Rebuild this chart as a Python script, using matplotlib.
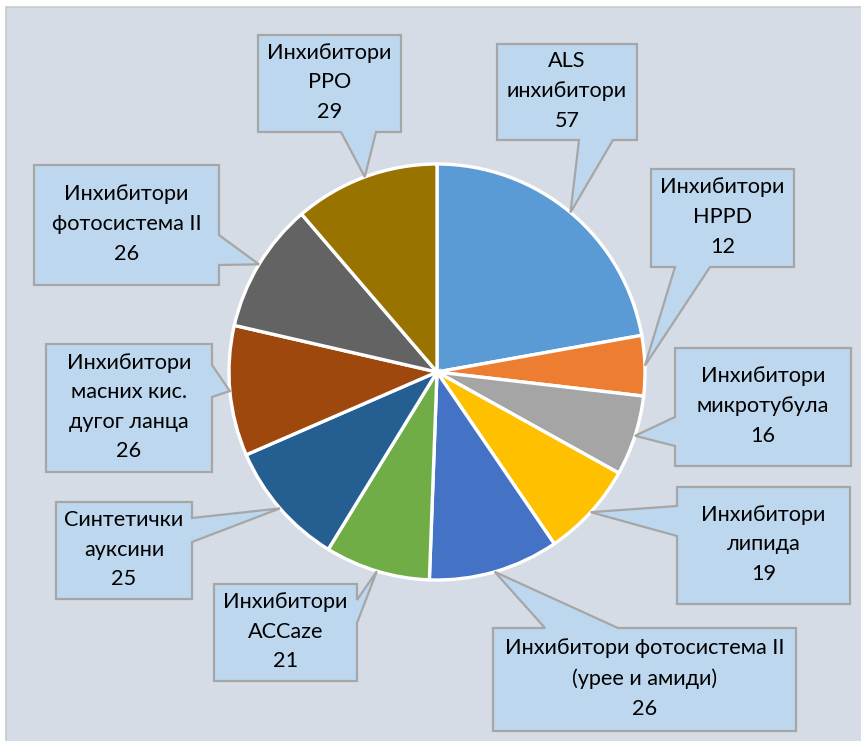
import matplotlib
matplotlib.use("Agg")
import matplotlib.pyplot as plt
from matplotlib.patches import Polygon, Rectangle
import numpy as np

# herbicide groups, clockwise from 12 o'clock
labels = [
    "ALS\nинхибитори",
    "Инхибитори\nHPPD",
    "Инхибитори\nмикротубула",
    "Инхибитори\nлипида",
    "Инхибитори фотосистема II\n(урее и амиди)",
    "Инхибитори\nACCaze",
    "Синтетички\nауксини",
    "Инхибитори\nмасних кис.\nдугог ланца",
    "Инхибитори\nфотосистема II",
    "Инхибитори\nPPO",
]
counts = [57, 12, 16, 19, 26, 21, 25, 26, 26, 29]
colors = ["#5B9BD5", "#ED7D31", "#A5A5A5", "#FFC000", "#4472C4",
          "#70AD47", "#255E91", "#9E480E", "#636363", "#997300"]

W, H = 862, 741
CX, CY, R = 437, 372, 208  # pie centre / radius in pixels (y from top)

# callout boxes: (left, top, right, bottom), side of pointer, pointer base span
boxes = [
    ((497, 44, 637, 140), "b", (579, 613)),
    ((651, 169, 794, 267), "b", (675, 710)),
    ((675, 348, 851, 466), "l", (417, 446)),
    ((677, 487, 850, 604), "l", (506, 536)),
    ((493, 628, 796, 731), "t", (545, 618)),
    ((214, 584, 357, 681), "r", (600, 623)),
    ((56, 502, 192, 599), "r", (518, 542)),
    ((46, 344, 212, 472), "r", (365, 397)),
    ((34, 165, 219, 285), "r", (235, 265)),
    ((258, 35, 401, 132), "b", (341, 376)),
]


def px(x, y):
    return (x, H - y)


fig = plt.figure(figsize=(W / 100, H / 100), dpi=100)
fig.patch.set_facecolor("white")
ax = fig.add_axes([0, 0, 1, 1])

ax.add_patch(Rectangle(px(6.5, H + 2), W, H - 4.5, facecolor="#D6DCE5",
                       edgecolor="#C9C9C9", linewidth=1.2, zorder=0))

wedges, _ = ax.pie(counts, colors=colors, startangle=90, counterclock=False,
                   center=px(CX, CY), radius=R, frame=True,
                   wedgeprops=dict(edgecolor="white", linewidth=2.4))
for w in wedges:
    w.set_zorder(2)

for w, lab, n, (box, side, (a, b)) in zip(wedges, labels, counts, boxes):
    mid = np.deg2rad((w.theta1 + w.theta2) / 2)
    tip = (w.center[0] + R * np.cos(mid), w.center[1] + R * np.sin(mid))
    l, t, r, btm = box
    if side == "t":
        pts = [px(l, t), px(a, t), tip, px(b, t), px(r, t), px(r, btm), px(l, btm)]
    elif side == "r":
        pts = [px(l, t), px(r, t), px(r, a), tip, px(r, b), px(r, btm), px(l, btm)]
    elif side == "b":
        pts = [px(l, t), px(r, t), px(r, btm), px(b, btm), tip, px(a, btm), px(l, btm)]
    else:
        pts = [px(l, t), px(r, t), px(r, btm), px(l, btm), px(l, b), tip, px(l, a)]
    ax.add_patch(Polygon(pts, closed=True, facecolor="#BDD7EE", edgecolor="#A6A6A6",
                         linewidth=1.6, joinstyle="miter", zorder=3))
    ax.text((l + r) / 2, H - (t + btm) / 2 + 1, f"{lab}\n{n}", ha="center", va="center",
            fontsize=15.6, family="Lato", linespacing=1.6, color="black", zorder=4)

ax.set_xlim(0, W)
ax.set_ylim(0, H)
ax.set_aspect("equal")
ax.axis("off")

fig.savefig("out.png", dpi=100, facecolor="white")
